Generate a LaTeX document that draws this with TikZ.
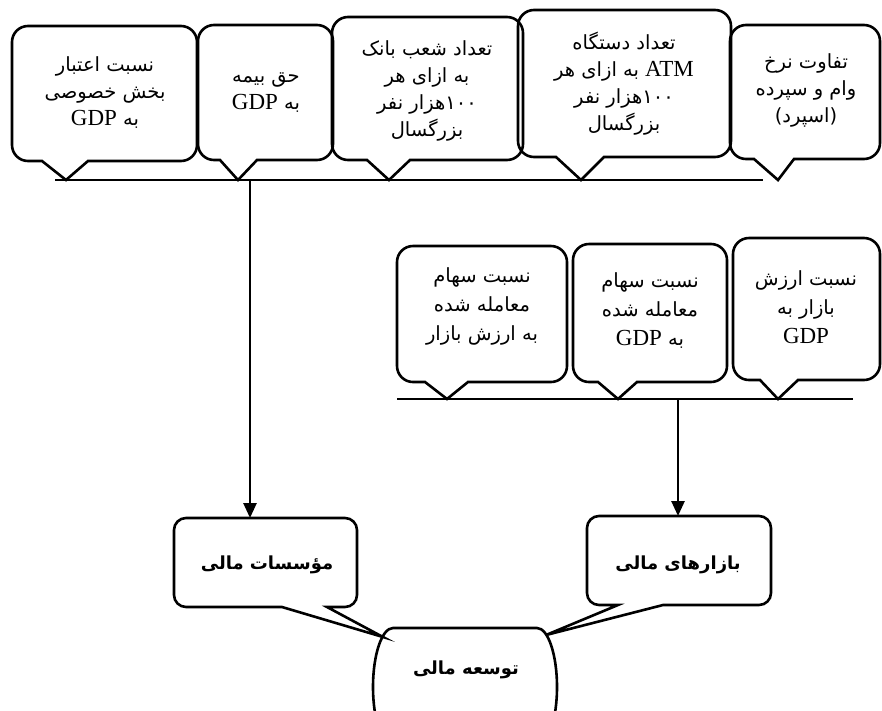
\documentclass[tikz,border=0pt]{standalone}
\usepackage{fontspec}
\setmainfont{Liberation Serif}
\newfontfamily\fa[Script=Arabic]{DejaVu Sans}
\newfontfamily\lat{Liberation Serif}
\TeXXeTstate=1
\usetikzlibrary{arrows.meta}
\newcommand\rl[1]{\beginR#1\endR}
\newcommand\gdp{\beginL{\lat\fontsize{23}{27}\selectfont GDP}\endL}
\newcommand\atm{\beginL{\lat\fontsize{23}{27}\selectfont ATM}\endL}
\def\crad{16}
\newcommand\callout[9]{%
  \coordinate (#1) at (#8,#9);
  \draw[cbox] (#8,#9) -- (#7,#5) [rounded corners=\crad] -- (#4,#5) -- (#4,#3) -- (#2,#3) -- (#2,#5) [sharp corners] -- (#6,#5) -- cycle;}
\tikzset{
  cbox/.style={line width=2.6pt, line join=miter},
  conn/.style={line width=2.6pt},
  arr/.style={line width=2.6pt, -{Triangle[width=13pt,length=15pt]}},
  txt/.style={font=\fa\fontsize{19.5}{27}\selectfont, align=center, inner sep=0pt},
  mtxt/.style={font=\fa\fontsize{19.5}{29}\selectfont, align=center, inner sep=0pt},
  btxt/.style={font=\fa\bfseries\fontsize{18}{25}\selectfont, align=center, inner sep=0pt}
}
\begin{document}
\begin{tikzpicture}[x=1pt,y=-1pt]
\useasboundingbox (0,0) rectangle (882,710);
\clip (0,0) rectangle (882,710);
% top row
\callout{tip1}{12}{26}{197}{161}{42}{88}{66}{180}
\callout{tip2}{198}{25}{333}{160}{220}{257}{238}{180}
\callout{tip3}{332}{17}{523}{160}{367}{410}{389}{180}
\callout{tip4}{518}{10}{731}{157}{556}{604}{581}{180}
\callout{tip5}{730}{25}{880}{159}{754}{794}{778}{180}
\node[txt] (b1) at (105,93) {\rl{نسبت اعتبار}\\ \rl{بخش خصوصی}\\ \rl{به \gdp}};
\node[txt] (b2) at (266,93) {\rl{حق بیمه}\\ \rl{به \gdp}};
\node[txt] (b3) at (427,91) {\rl{تعداد شعب بانک}\\ \rl{به ازای هر}\\ \rl{۱۰۰هزار نفر}\\ \rl{بزرگسال}};
\node[txt] (b4) at (624,84) {\rl{تعداد دستگاه}\\ \rl{\atm{} به ازای هر}\\ \rl{۱۰۰هزار نفر}\\ \rl{بزرگسال}};
\node[txt] (b5) at (806,90) {\rl{تفاوت نرخ}\\ \rl{وام و سپرده}\\ \rl{(اسپرد)}};
% middle row
\def\crad{16}
\callout{tipa}{397}{246}{567}{382}{425}{468}{447}{399}
\callout{tipb}{573}{244}{727}{382}{598}{637}{618}{399}
\callout{tipc}{733}{238}{880}{380}{760}{798}{778}{399}
\node[mtxt] (ma) at (482,306) {\rl{نسبت سهام}\\ \rl{معامله شده}\\ \rl{به ارزش بازار}};
\node[mtxt] (mb) at (650,311) {\rl{نسبت سهام}\\ \rl{معامله شده}\\ \rl{به \gdp}};
\node[mtxt] (mc) at (806,307) {\rl{نسبت ارزش}\\ \rl{بازار به}\\ \gdp};
% bottom
\def\crad{12}
\callout{tipm}{174}{518}{357}{607}{282}{327}{383}{637}
\callout{tipr}{587}{516}{771}{605}{618}{663}{546}{635}
\node[btxt] (inst) at (267,565) {\rl{مؤسسات مالی}};
\node[btxt] (mkt) at (678,565) {\rl{بازارهای مالی}};
\draw[cbox] (393,628) -- (537,628) arc[start angle=270,end angle=360,x radius=20,y radius=59]
  arc[start angle=0,end angle=90,x radius=20,y radius=59] -- (393,746)
  arc[start angle=90,end angle=180,x radius=20,y radius=59]
  arc[start angle=180,end angle=270,x radius=20,y radius=59] -- cycle;
\node[btxt] (dev) at (466,670) {\rl{توسعه مالی}};
% connectors
\coordinate (t1) at (55,180);
\coordinate (t2) at (763,180);
\coordinate (tj) at (250,180);
\coordinate (mtop) at (250,518);
\coordinate (m1) at (397,399);
\coordinate (m2) at (853,399);
\coordinate (mj) at (678,399);
\coordinate (rtop) at (678,516);
\draw[conn] (t1) -- (t2);
\draw[arr] (tj) -- (mtop);
\draw[conn] (m1) -- (m2);
\draw[arr] (mj) -- (rtop);
\end{tikzpicture}
\end{document}
